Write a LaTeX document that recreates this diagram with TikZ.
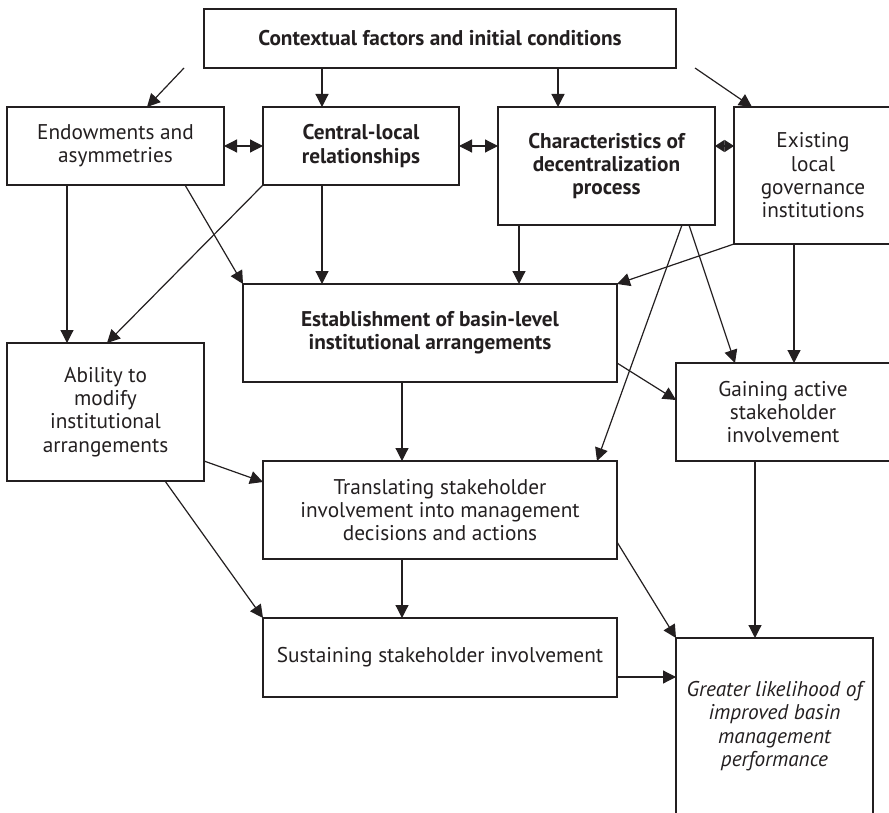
\documentclass[tikz,border=0pt]{standalone}
\usepackage{fontspec}
\setmainfont{PT Sans}
\usetikzlibrary{arrows.meta}
\definecolor{ink}{HTML}{231F20}

\begin{document}
\begin{tikzpicture}[x=1pt,y=-1pt,->,>={Triangle[length=13pt,width=13pt]},
  line width=1.2pt,draw=ink,
  box/.style={rectangle,draw=ink,inner sep=0pt,outer sep=0pt,align=center,
    text=ink,font=\fontsize{21.3}{23.3}\selectfont},
  key box/.style={box,font=\fontsize{21.3}{23.3}\selectfont\bfseries},
  goal box/.style={box,font=\fontsize{21.3}{23.3}\selectfont\itshape}]

  \useasboundingbox (0,0) rectangle (889,813);
  \clip (0,0) rectangle (889,813);

  \node[key box,minimum width=472pt,minimum height=59pt] (ctx) at (440,38.5)
    {Contextual factors and initial conditions};
  \node[box,minimum width=217pt,minimum height=78pt] (endow) at (115.5,146)
    {Endowments and\\asymmetries};
  \node[key box,minimum width=196pt,minimum height=78pt] (central) at (361,146)
    {Central-local\\relationships};
  \node[key box,minimum width=217pt,minimum height=118pt] (charac) at (606.5,166)
    {Characteristics of\\decentralization\\process};
  \node[box,minimum width=158pt,minimum height=137pt] (exist) at (813,175.5)
    {Existing\\local\\governance\\institutions};
  \node[key box,minimum width=374pt,minimum height=98pt] (estab) at (430,333)
    {Establishment of basin-level\\institutional arrangements};
  \node[box,minimum width=197pt,minimum height=138pt] (ability) at (105.5,412)
    {Ability to\\modify\\institutional\\arrangements};
  \node[box,minimum width=214pt,minimum height=98pt] (gaining) at (783,412)
    {Gaining active\\stakeholder\\involvement};
  \node[box,minimum width=354pt,minimum height=98pt] (transl) at (440,510)
    {Translating stakeholder\\involvement into management\\decisions and actions};
  \node[box,minimum width=354pt,minimum height=79pt] (sustain) at (440,657.5)
    {Sustaining stakeholder involvement};
  \node[goal box,minimum width=197pt,minimum height=176pt] (greater) at (774.5,726)
    {Greater likelihood of\\improved basin\\management\\performance};

  \coordinate (ctx-l) at ([xshift=-20pt]ctx.south west);
  \coordinate (ctx-r) at ([xshift=19pt]ctx.south east);

  \path
    (ctx-l) edge ([xshift=31.5pt]endow.north)
    ([xshift=-118pt]ctx.south) edge ([xshift=-39pt]central.north)
    ([xshift=118pt]ctx.south) edge ([xshift=-48.5pt]charac.north)
    (ctx-r) edge ([xshift=18pt]exist.north west);

  \path
    (endow.east) edge[<->] (central.west)
    (central.east) edge[<->] (central.east -| charac.west)
    (central.east -| charac.east) edge[<->,>={Triangle[length=9.5pt,width=12pt]}]
      (central.east -| exist.west);

  \path
    ([xshift=-48.5pt]endow.south) edge ([xshift=-38.5pt]ability.north)
    ([xshift=-39pt]endow.south east) edge (estab.north west)
    (central.south west) edge ([xshift=1.5pt]ability.north)
    ([xshift=-39pt]central.south) edge ([xshift=-108pt]estab.north)
    ([xshift=21pt]charac.south west) edge ([xshift=-98pt]estab.north east)
    ([xshift=-33pt]charac.south east) edge ([xshift=-20pt]transl.north east)
    ([xshift=-26pt]charac.south east) edge ([xshift=59pt]gaining.north west)
    (exist.south west) edge (estab.north east)
    ([xshift=-19pt]exist.south) edge ([xshift=11pt]gaining.north);

  \path
    ([yshift=-30pt]estab.east) edge ([yshift=12pt]gaining.west)
    ([xshift=-28pt]estab.south) edge ([xshift=-38pt]transl.north)
    ([yshift=20pt]ability.south east) edge ([yshift=-21pt]transl.north west)
    ([xshift=-39pt]ability.south east) edge (sustain.north west)
    ([xshift=-38pt]transl.south) edge ([xshift=-38pt]sustain.north)
    ([yshift=17pt]transl.south east) edge (greater.north west)
    ([xshift=-28pt]gaining.south) edge ([xshift=-19.5pt]greater.north)
    ([yshift=-19.5pt]sustain.east) edge ([yshift=49pt]greater.west);
\end{tikzpicture}
\end{document}
